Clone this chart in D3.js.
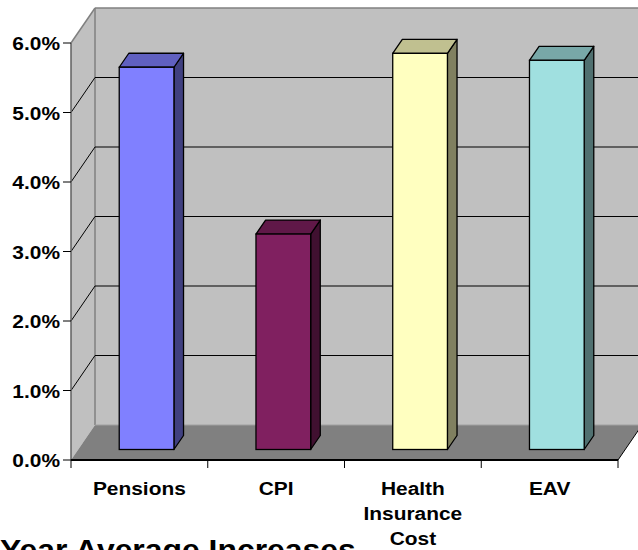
<!DOCTYPE html>
<html>
<head>
<meta charset="utf-8">
<script src="https://cdn.jsdelivr.net/npm/d3@7"></script>
<style>
  html, body { margin: 0; padding: 0; background: #fff; }
  svg { display: block; }
  text { font-family: "Liberation Sans", Arial, sans-serif; font-weight: bold; fill: #000; }
</style>
</head>
<body>
<svg id="chart" width="638" height="550"></svg>
<script>
// Average annual increases by category (percent)
const categories = ["Pensions", "CPI", "Health Insurance Cost", "EAV"];
const categoryLines = [["Pensions"], ["CPI"], ["Health", "Insurance", "Cost"], ["EAV"]];
const values = [5.5, 3.1, 5.7, 5.6];
const yTicks = [0, 1, 2, 3, 4, 5, 6];
const yTickLabels = ["0.0%", "1.0%", "2.0%", "3.0%", "4.0%", "5.0%", "6.0%"];
const titleText = "Year Average Increases";

// bar face colours: front, top, side
const frontColors = ["#8080FF", "#802060", "#FFFFC0", "#A0E0E0"];
const topColors   = ["#6060C0", "#601848", "#C0C090", "#78A8A8"];
const sideColors  = ["#404080", "#401030", "#808060", "#507070"];

const svg = d3.select("#chart");

// plot frame (front plane) and depth projection
const plotLeft = 71, plotRight = 618, plotBottom = 460, plotTop = 43;
const depthX = 24, depthY = -35;

const y = d3.scaleLinear().domain([0, 6]).range([plotBottom, plotTop]);
const x = d3.scaleBand().domain(categories).range([plotLeft, plotRight]).padding(0);

// project a (x, value, depth) triple to screen
const px = (xv, t) => xv + depthX * t;
const py = (v, t) => y(v) + depthY * t;
const pts = arr => arr.map(p => p.join(",")).join(" ");

const g = svg.append("g");

// back wall
g.append("polygon")
  .attr("points", pts([[px(plotLeft, 1), py(6, 1)], [px(plotRight, 1) + 40, py(6, 1)],
                       [px(plotRight, 1) + 40, py(0, 1)], [px(plotLeft, 1), py(0, 1)]]))
  .attr("fill", "#C0C0C0");

// side wall
g.append("polygon")
  .attr("points", pts([[px(plotLeft, 0), py(0, 0)], [px(plotLeft, 0), py(6, 0)],
                       [px(plotLeft, 1), py(6, 1)], [px(plotLeft, 1), py(0, 1)]]))
  .attr("fill", "#C0C0C0");

// floor
g.append("polygon")
  .attr("points", pts([[px(plotLeft, 0), py(0, 0)], [px(plotRight, 0), py(0, 0)],
                       [px(plotRight, 1), py(0, 1)], [px(plotLeft, 1), py(0, 1)]]))
  .attr("fill", "#808080");

// wall edges
g.append("line")
  .attr("x1", px(plotLeft, 1)).attr("y1", py(6, 1))
  .attr("x2", 640).attr("y2", py(6, 1))
  .attr("stroke", "#808080").attr("stroke-width", 1.5);
g.append("line")
  .attr("x1", px(plotLeft, 1)).attr("y1", py(6, 1))
  .attr("x2", px(plotLeft, 1)).attr("y2", py(0, 1))
  .attr("stroke", "#808080").attr("stroke-width", 1.5);
g.append("line")
  .attr("x1", px(plotLeft, 0)).attr("y1", py(6, 0))
  .attr("x2", px(plotLeft, 1)).attr("y2", py(6, 1))
  .attr("stroke", "#808080").attr("stroke-width", 1.5);
g.append("line")
  .attr("x1", px(plotLeft, 1)).attr("y1", py(0, 1))
  .attr("x2", 640).attr("y2", py(0, 1))
  .attr("stroke", "#A0A0A0").attr("stroke-width", 1);

// gridlines on back and side walls
const grid = yTicks.filter(d => d > 0 && d < 6);
g.selectAll("line.gback").data(grid).join("line")
  .attr("class", "gback")
  .attr("x1", px(plotLeft, 1)).attr("x2", 640)
  .attr("y1", d => py(d, 1)).attr("y2", d => py(d, 1))
  .attr("stroke", "#000").attr("stroke-width", 1);
g.selectAll("line.gside").data(grid).join("line")
  .attr("class", "gside")
  .attr("x1", px(plotLeft, 0)).attr("y1", d => py(d, 0))
  .attr("x2", px(plotLeft, 1)).attr("y2", d => py(d, 1))
  .attr("stroke", "#000").attr("stroke-width", 1);

// floor side edge on the right
g.append("line")
  .attr("x1", px(plotRight, 0)).attr("y1", py(0, 0))
  .attr("x2", px(plotRight, 1)).attr("y2", py(0, 1))
  .attr("stroke", "#000").attr("stroke-width", 1);

// bars: front face at depth 0.3, back at 0.7
const t0 = 0.3, t1 = 0.7;
const bw = x.bandwidth() * 0.4;
const bars = g.selectAll("g.bar").data(categories).join("g").attr("class", "bar");
bars.each(function (c, i) {
  const b = d3.select(this);
  const x0 = x(c) + x.bandwidth() * 0.3;
  const x1 = x0 + bw;
  const v = values[i];
  // side face
  b.append("polygon")
    .attr("points", pts([[px(x1, t0), py(0, t0)], [px(x1, t0), py(v, t0)],
                         [px(x1, t1), py(v, t1)], [px(x1, t1), py(0, t1)]]))
    .attr("fill", sideColors[i]).attr("stroke", "#000").attr("stroke-width", 1.3)
    .attr("stroke-linejoin", "round");
  // top face
  b.append("polygon")
    .attr("points", pts([[px(x0, t0), py(v, t0)], [px(x1, t0), py(v, t0)],
                         [px(x1, t1), py(v, t1)], [px(x0, t1), py(v, t1)]]))
    .attr("fill", topColors[i]).attr("stroke", "#000").attr("stroke-width", 1.3)
    .attr("stroke-linejoin", "round");
  // front face
  b.append("rect")
    .attr("x", px(x0, t0)).attr("y", py(v, t0))
    .attr("width", bw).attr("height", py(0, t0) - py(v, t0))
    .attr("fill", frontColors[i]).attr("stroke", "#000").attr("stroke-width", 1.3);
});

// value axis line and ticks
g.append("line")
  .attr("x1", plotLeft).attr("y1", y(6)).attr("x2", plotLeft).attr("y2", y(0))
  .attr("stroke", "#606060").attr("stroke-width", 1.5);
g.selectAll("line.ytick").data(yTicks).join("line")
  .attr("class", "ytick")
  .attr("x1", plotLeft - 8).attr("x2", plotLeft)
  .attr("y1", d => y(d)).attr("y2", d => y(d))
  .attr("stroke", "#000").attr("stroke-width", 1);
g.selectAll("text.ylab").data(yTicks).join("text")
  .attr("class", "ylab")
  .attr("transform", d => `translate(60,${y(d) + 7}) scale(1.1,1)`)
  .attr("text-anchor", "end")
  .attr("font-size", 19)
  .text((d, i) => yTickLabels[i]);

// category axis line, ticks and labels
g.append("line")
  .attr("x1", plotLeft).attr("y1", plotBottom).attr("x2", plotRight).attr("y2", plotBottom)
  .attr("stroke", "#000").attr("stroke-width", 2);
const bounds = categories.map(c => x(c)).concat([plotRight]);
g.selectAll("line.xtick").data(bounds).join("line")
  .attr("class", "xtick")
  .attr("x1", d => d).attr("x2", d => d)
  .attr("y1", plotBottom).attr("y2", plotBottom + 8)
  .attr("stroke", "#000").attr("stroke-width", 1);
categories.forEach((c, i) => {
  const cx = x(c) + x.bandwidth() / 2;
  categoryLines[i].forEach((line, j) => {
    g.append("text")
      .attr("transform", `translate(${cx},${495 + j * 25}) scale(1.1,1)`)
      .attr("text-anchor", "middle")
      .attr("font-size", 19)
      .text(line);
  });
});

// chart title
svg.append("text")
  .attr("transform", "translate(0,560) scale(1.1,1)")
  .attr("font-size", 29)
  .text(titleText);
</script>
</body>
</html>
